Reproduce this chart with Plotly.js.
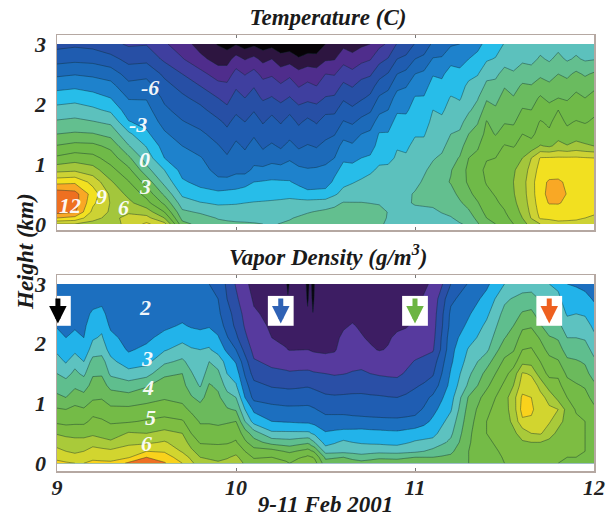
<!DOCTYPE html>
<html><head><meta charset="utf-8">
<script src="https://cdn.plot.ly/plotly-3.0.1.min.js"></script>
<style>html,body{margin:0;padding:0;background:#fff}#c{width:615px;height:517px}</style>
</head><body><div id="c"></div>
<script>
const heights=[0,.1,.2,.35,.5,.7,.9,1.1,1.3,1.5,1.7,1.9,2.1,2.3,2.5,2.75,3];
const tempTimes=[9,9.1,9.2,9.3,9.4,9.5,9.6,9.7,9.8,9.9,9.95,10,10.05,10.1,10.15,10.2,10.25,10.3,10.35,10.4,10.45,10.5,10.55,10.6,10.65,10.7,10.75,10.8,10.85,10.9,10.95,11,11.05,11.1,11.15,11.2,11.25,11.3,11.35,11.4,11.45,11.5,11.55,11.6,11.65,11.7,11.75,11.8,11.85,11.9,11.95,12];
// one vertical profile per time, bottom to top
const tempProfiles=[
[7.5,10.5,12.5,13,13,10,7,4.8,3.1,1.5,.2,-1,-2.2,-3.5,-4.8,-6.6,-8],
[7.5,10,12.2,12.8,12.6,10.2,7.2,5.3,3.5,1.7,.4,-.8,-2,-3.3,-4.6,-6.4,-7.8],
[7,8,8.6,9.3,9.8,8.5,6.6,5,3.4,1.6,.1,-1.2,-2.4,-3.6,-4.8,-6.5,-8],
[6.8,7,7.3,7.4,7.2,6.2,5,3.8,2.6,1,-.3,-1.8,-3,-4,-5.2,-7,-8.6],
[8,8,7.3,6.4,5.6,4.6,3.4,1.8,.1,-1.2,-2.9,-3.8,-4.6,-5.6,-6.6,-8,-9.2],
[9.3,8,6.8,5,4,2.4,.5,-.7,-1.6,-2.7,-3.5,-4,-4.6,-5.4,-6.4,-7.9,-9.1],
[8,6,4.5,2.7,1.2,-.5,-1.5,-3,-3.6,-4.3,-5,-5.7,-6.3,-7,-7.8,-9.3,-10.3],
[2,1,.3,-.8,-1.8,-2.8,-3.5,-4,-4.5,-5.2,-5.9,-6.6,-7.2,-8,-9,-10.4,-11.3],
[1,.6,-.2,-1.4,-2.5,-3.4,-4,-4.4,-5.1,-5.7,-6.5,-7.1,-8,-9,-10,-11.6,-12.6],
[.4,-.1,-.8,-1.7,-2.6,-4.2,-4.9,-5.3,-5.9,-6.6,-7.2,-8.2,-9,-10,-11.2,-12.6,-13.6],
[.35,-.3,-.85,-1.65,-2.5,-4.05,-5.2,-5.8,-6.5,-7.1,-7.8,-8.7,-9.4,-10.2,-11.2,-12.6,-14.1],
[.3,-.5,-.9,-1.6,-2.4,-3.9,-4.8,-5.2,-5.7,-6.4,-7,-7.8,-8.5,-9.2,-10,-11.4,-13.6],
[.2,-.45,-.9,-1.5,-2.3,-3.5,-5,-5.6,-6.2,-6.9,-7.5,-8.3,-9,-9.7,-10.6,-12.1,-14.2],
[.1,-.4,-.9,-1.4,-2.2,-3,-4.2,-5,-5.5,-6.2,-6.9,-7.6,-8.4,-9.1,-10,-11.6,-13.8],
[0,-.45,-.95,-1.35,-2.1,-2.9,-4.1,-5.5,-6.2,-7,-7.6,-8.3,-9.2,-10,-10.9,-12.4,-14.3],
[-.1,-.5,-1,-1.3,-2,-2.8,-3.9,-5,-5.8,-6.6,-7.1,-7.8,-8.9,-9.7,-10.7,-12,-14],
[.05,-.3,-.8,-1.25,-1.9,-2.85,-3.9,-5.3,-6.2,-7,-7.6,-8.4,-9.4,-10.3,-11.3,-12.8,-14.6],
[.2,-.1,-.6,-1.2,-1.8,-2.9,-3.8,-4.7,-5.6,-6.4,-7,-7.8,-8.9,-9.8,-10.8,-12.6,-14.4],
[.45,.15,-.35,-1.1,-2.1,-3.4,-4.1,-5.4,-6.2,-7,-7.7,-8.5,-9.7,-10.6,-11.5,-13.3,-14.9],
[.7,.4,-.1,-1,-2.5,-3.9,-4.4,-5.1,-5.9,-6.7,-7.2,-8.1,-9.4,-10.2,-11.1,-12.9,-14.5],
[.75,.5,.1,-.9,-2.5,-3.75,-4.25,-5.4,-6.1,-7,-7.6,-8.4,-9.6,-10.5,-11.3,-13,-14.4],
[.8,.6,.3,-.8,-2.5,-3.6,-4.1,-5,-5.6,-6.4,-7,-7.8,-8.9,-9.8,-10.5,-12.2,-13.5],
[.85,.65,.4,-.35,-1.75,-2.75,-3.35,-4.5,-5.2,-6.1,-6.9,-7.8,-8.8,-9.7,-10.6,-12.1,-13.4],
[.9,.7,.5,.1,-1,-1.9,-2.6,-3.2,-4,-5,-5.9,-6.8,-7.7,-8.7,-9.7,-11,-12.4],
[.85,.7,.5,.07,-.8,-1.6,-2.35,-3.5,-4.3,-5.2,-6.2,-7.2,-8.2,-9.1,-10.1,-11.4,-12.8],
[.8,.7,.5,.05,-.6,-1.3,-2.1,-3,-3.8,-4.5,-5.6,-6.6,-7.7,-8.4,-9.5,-10.9,-12.3],
[.5,.55,.45,-.02,-.55,-1.1,-1.7,-2.8,-3.6,-4.2,-5.2,-6.2,-7.2,-8.1,-9.2,-10.6,-12],
[.2,.4,.4,-.1,-.5,-.9,-1.3,-1.8,-2.5,-2.9,-3.8,-4.9,-5.8,-6.9,-8,-9.5,-10.9],
[-.2,-.1,-.05,-.25,-.5,-.8,-1.15,-1.9,-2.5,-2.9,-3.6,-4.5,-5.3,-6.4,-7.4,-8.9,-10.3],
[-.6,-.6,-.5,-.4,-.5,-.7,-1,-1.3,-1.6,-2,-2.5,-3.2,-3.9,-4.9,-6,-7.5,-8.9],
[-.65,-.55,-.4,-.15,-.2,-.5,-.8,-1.35,-1.7,-2.1,-2.6,-3.2,-3.8,-4.6,-5.6,-7.1,-8.6],
[-.7,-.5,-.3,.1,.1,-.3,-.6,-.9,-1.2,-1.6,-2,-2.5,-2.9,-3.6,-4.5,-6,-7.4],
[-.65,-.45,-.25,.15,.3,.15,-.15,-.8,-1.2,-1.6,-2,-2.4,-2.9,-3.5,-4.2,-5.6,-7],
[-.6,-.4,-.2,.2,.5,.6,.3,-.1,-.5,-.9,-1.2,-1.5,-2,-2.5,-3.1,-4.4,-5.7],
[-.5,-.25,.05,.4,.75,1.1,.85,.2,-.3,-.8,-1.2,-1.7,-2.1,-2.7,-3.2,-4.3,-5.6],
[-.4,-.1,.3,.6,1,1.6,1.4,1,.5,0,-.4,-1,-1.4,-2,-2.5,-3.4,-4.7],
[-.1,.35,.8,1.3,1.85,2.4,2.35,1.6,.9,.2,-.4,-1.1,-1.6,-2,-2.6,-3.6,-4.5],
[.2,.8,1.3,2,2.7,3.2,3.3,3,2.4,1.5,.6,-.2,-.9,-1.2,-1.9,-3,-3.5],
[1.35,1.9,2.35,2.9,3.45,3.9,4.05,3.4,2.8,2,1.4,.5,-.1,-.8,-1.6,-2.8,-3.2],
[2.5,3,3.4,3.8,4.2,4.6,4.8,4.4,4,3.5,3.1,2.2,1.3,.3,-.4,-1.7,-2.8],
[3,3.5,3.9,4.3,4.6,4.85,4.95,4.5,3.9,2.9,2.3,1.7,1.1,.4,-.3,-1.4,-2.3],
[3.5,4,4.4,4.8,5,5.1,5.1,5,4.6,3.6,2.9,2.4,2,1.4,.5,-.6,-1.4],
[4.5,5,5.35,5.7,5.9,6,5.85,5.4,4.4,3.6,2.8,2.2,1.6,1,.2,-.8,-1.4],
[5.5,6,6.3,6.6,6.8,6.9,6.6,6,5,4.5,3.8,3.1,2.4,1.7,.8,-.3,-1],
[6.5,7.6,7.9,8.2,8.4,8.45,8.1,7.5,5,4.2,3.8,3,2.4,1.6,.6,-.4,-1],
[7.5,9.2,9.5,9.8,10,10,9.6,9.1,6.1,5,4.6,3.8,3.2,2.2,1.2,.2,-.6],
[8,9.35,9.65,10.6,10.9,10.7,9.7,9.15,5.8,4.7,4.3,3.6,2.6,1.8,.9,-.2,-.8],
[8.5,9.5,9.8,10.6,10.9,10.7,9.9,9.2,6.4,5.5,5,4.5,3,2.3,1.5,.4,-.5],
[8.55,9.35,9.65,10.25,10.45,10.3,9.75,9.2,6.1,4.9,4.3,3.7,2.8,2,1.2,-.2,-.8],
[8.6,9.2,9.5,9.9,10,9.9,9.6,9.2,6.5,5.3,4.6,3.8,3.4,2.6,1.8,.2,-.6],
[8.3,9,9.35,9.7,9.8,9.75,9.45,9.1,6.2,5.2,4.4,3.6,3,2.3,1.3,-.2,-.9],
[8,8.8,9.2,9.5,9.6,9.6,9.3,9,6,5.3,4.7,4.2,3.3,2.8,1.7,-.1,-.8]];
const vaporTimes=[9,9.05,9.1,9.15,9.2,9.25,9.3,9.4,9.5,9.6,9.7,9.75,9.8,9.85,9.9,9.95,10,10.05,10.1,10.2,10.28,10.29,10.3,10.35,10.39,10.4,10.41,10.42,10.43,10.44,10.5,10.55,10.6,10.65,10.7,10.75,10.8,10.85,10.9,10.95,11,11.05,11.1,11.15,11.2,11.3,11.4,11.5,11.55,11.6,11.65,11.7,11.75,11.8,11.85,11.9,11.95,12];
const vaporProfiles=[
[6.6,6.4,6.1,5.85,5.45,4.9,4.55,4.1,3.8,3.5,3.2,2.9,2.7,2.45,2.3,2.1,2.05],
[6.55,6.3,6,5.75,5.35,4.85,4.5,4,3.7,3.35,2.95,2.7,2.5,2.35,2.25,2.1,2.05],
[6.5,6.2,5.9,5.7,5.3,4.9,4.6,4.3,3.9,3.6,3.35,2.85,2.6,2.45,2.3,2.1,2.05],
[6.5,6.25,6,5.7,5.3,4.9,4.55,4.15,3.8,3.4,3,2.7,2.5,2.4,2.3,2.1,2.05],
[6.6,6.4,6.2,5.8,5.4,5.1,4.85,4.4,4.15,3.95,3.7,3.2,2.95,2.8,2.6,2.25,2.05],
[6.6,6.35,6.15,5.7,5.3,5.05,4.8,4.45,4.2,3.95,3.7,3.3,3.05,2.9,2.7,2.3,2.05],
[6.6,6.3,6.1,5.6,5.2,4.95,4.6,4.25,3.85,3.4,3.15,2.8,2.65,2.4,2.2,2.05,2.02],
[7.1,6.45,6.2,5.9,5.55,4.95,4.6,4.2,3.7,3.2,2.7,2.45,2.3,2.2,2.1,2.05,2.02],
[7.5,7,6.5,5.9,5.5,5.05,4.7,4.3,3.95,3.3,2.85,2.6,2.4,2.3,2.2,2.1,2.05],
[7.05,6.75,6.45,6.05,5.65,5.15,4.75,4.45,4.25,3.9,3.4,2.95,2.65,2.4,2.3,2.15,2.05],
[6.5,6.25,5.95,5.75,5.5,5.05,4.65,4.35,4.15,4,3.6,3.2,2.85,2.55,2.35,2.2,2.1],
[6.1,5.9,5.6,5.3,5,4.75,4.4,4.05,3.75,3.55,3.3,3.05,2.75,2.45,2.25,2.15,2.05],
[5.75,5.5,5.3,4.95,4.7,4.45,4.2,3.85,3.45,3.2,3.1,3,2.7,2.4,2.2,2.1,2.05],
[5.7,5.4,5.2,4.95,4.7,4.45,4.35,4.2,4.05,3.75,3.5,3.05,2.8,2.45,2.2,2.05,2],
[5.6,5.3,5.15,4.95,4.7,4.4,4.2,4.1,3.9,3.6,3.3,2.8,2.55,2.3,2.1,2,1.9],
[5.65,5.45,5.25,4.95,4.75,4.45,4.05,3.7,3.3,3,2.8,2.4,2.05,1.8,1.7,1.5,1.4],
[5.7,5.6,5.35,5.05,4.85,4.5,3.95,3.5,3.05,2.75,2.45,2,1.6,1.4,1.3,1.1,.95],
[5.45,5.25,5,4.6,4.25,3.5,3,2.5,2.2,1.95,1.7,1.35,1.1,.95,.85,.7,.6],
[5.2,4.95,4.7,4.2,3.75,2.8,2.4,1.85,1.65,1.3,1.05,.85,.72,.63,.55,.45,.35],
[5.25,5,4.7,3.8,3.1,2.5,2.15,1.8,1.45,1.1,.9,.7,.5,.45,.4,.3,.2],
[5.05,4.9,4.45,3.72,3.1,2.46,2.1,1.76,1.41,1.07,.82,.52,.42,.36,.3,.2,.12],
[5.02,4.87,4.42,3.71,3.1,2.45,2.1,1.75,1.4,1.06,.81,.5,.41,.35,.3,.1,-.25],
[5,4.85,4.4,3.7,3.1,2.45,2.1,1.75,1.4,1.05,.8,.48,.4,.35,.3,.2,.1],
[5.2,4.95,4.55,3.8,3.1,2.42,2.1,1.77,1.42,1.08,.78,.49,.38,.33,.28,.18,.08],
[5.45,5.05,4.65,3.88,3.1,2.4,2.1,1.8,1.45,1.1,.75,.5,.35,.3,.25,.15,.06],
[5.5,5.1,4.7,3.9,3.1,2.4,2.1,1.8,1.45,1.1,.75,.5,.35,.3,.1,-.1,-.3],
[5.45,5.07,4.65,3.85,3.08,2.39,2.09,1.79,1.44,1.09,.75,.49,.35,.3,.25,.15,.06],
[5.38,5.03,4.55,3.7,3,2.37,2.07,1.77,1.42,1.07,.74,.47,.34,.3,.25,.15,.06],
[5.3,5,4.5,3.6,2.95,2.35,2.05,1.75,1.4,1.05,.73,.45,.33,.2,.02,-.2,-.3],
[5.2,4.9,4.4,3.5,2.9,2.33,2.03,1.73,1.38,1.04,.72,.44,.32,.28,.24,.14,.06],
[4.2,3.9,3.3,2.8,2.55,2.2,1.85,1.6,1.25,1,.7,.4,.3,.25,.2,.12,.05],
[4.25,3.95,3.32,2.95,2.6,2.2,1.85,1.55,1.3,.95,.7,.45,.4,.35,.3,.2,.1],
[4.3,4,3.35,3.1,2.65,2.2,1.85,1.55,1.35,.98,.85,.7,.58,.45,.35,.22,.1],
[4.25,3.85,3.32,3,2.67,2.17,1.82,1.58,1.33,1.04,.83,.69,.6,.53,.4,.25,.1],
[4.2,3.7,3.3,2.95,2.7,2.15,1.8,1.6,1.3,1.1,.8,.65,.53,.45,.35,.22,.1],
[4.25,3.8,3.32,2.92,2.67,2.12,1.8,1.57,1.27,1,.78,.55,.45,.38,.3,.2,.08],
[4.3,3.9,3.35,2.9,2.65,2.1,1.8,1.55,1.25,.95,.73,.48,.35,.3,.25,.15,.05],
[4.25,3.9,3.32,2.87,2.62,2.1,1.77,1.52,1.22,.92,.72,.52,.47,.4,.28,.18,.08],
[4.2,3.9,3.3,2.85,2.6,2.1,1.75,1.5,1.2,.9,.75,.62,.55,.45,.3,.2,.1],
[4.25,3.95,3.35,2.95,2.67,2.12,1.8,1.57,1.32,1.05,.88,.7,.58,.48,.38,.28,.15],
[4.3,4,3.4,3.05,2.75,2.15,1.85,1.65,1.45,1.2,1.03,.8,.65,.55,.45,.35,.2],
[4.3,4,3.5,3.1,2.8,2.35,2.05,1.85,1.55,1.32,1.12,.87,.75,.68,.6,.55,.4],
[4.3,4,3.65,3.15,2.85,2.6,2.35,2.1,1.7,1.45,1.25,.95,.85,.8,.75,.7,.6],
[4.35,4.05,3.8,3.4,3.15,2.9,2.65,2.45,2.2,2,1.85,1.6,1.55,1.45,1.4,1.25,.95],
[4.4,4.1,3.9,3.6,3.4,3.2,2.95,2.8,2.65,2.55,2.42,2.35,2.28,2.15,2.1,1.9,1.5],
[4.5,4.5,4.5,4.45,4.4,4.3,4.2,4.05,3.6,3.4,3.2,3.05,2.8,2.6,2.45,2.25,2.05],
[4.6,4.7,4.8,4.9,5,5,4.9,4.7,4.4,4.15,3.8,3.4,3.25,3.1,2.9,2.65,2.4],
[5,5.05,5.1,5.2,5.25,5.3,5.3,5.3,5.1,4.85,4.6,4.3,3.98,3.8,3.65,3.4,3],
[5.1,5.2,5.25,5.3,5.4,5.6,5.75,5.8,5.5,5.2,4.8,4.45,4.2,4,3.8,3.55,3.05],
[5.2,5.3,5.4,5.45,5.7,6.4,6.7,6.6,6.25,6.05,5.35,5,4.7,4.4,4.05,3.7,3.2],
[5.2,5.3,5.4,5.5,6,6.4,6.6,6.5,6.2,5.95,5.3,5.05,4.75,4.45,4.1,3.75,3.2],
[5.2,5.3,5.4,5.5,6.05,6.3,6.2,6.1,5.9,5.2,5,4.7,4.45,4.05,3.8,3.45,3.1],
[5.1,5.2,5.25,5.35,5.75,6.05,6.05,5.9,5.2,4.9,4.65,4.35,4.05,3.7,3.45,3.2,3],
[5,5.05,5.1,5.2,5.35,5.7,6,5.3,5.15,4.9,4.55,4.2,3.95,3.65,3.35,3.1,2.9],
[5,5,5.05,5.1,5.15,5.3,5.3,5,4.7,4.4,4.1,3.8,3.5,3.2,2.95,2.75,2.5],
[5,5,5.05,5.05,5.05,5.1,4.95,4.75,4.55,4.3,4.05,3.75,3.5,3.25,3,2.7,2.45],
[4.95,4.95,5,5,5,5,4.85,4.65,4.45,4.15,3.95,3.7,3.45,3.2,2.95,2.65,2.35],
[4.9,4.9,4.9,4.95,4.95,4.95,4.6,4.35,4.1,3.8,3.6,3.35,3.1,2.9,2.7,2.45,2.1]];
const tempColors=['#070307','#2d1540','#4f2d8c','#3f3f9f','#274fa5','#1f5cb0','#1c6ab9','#1e82cc','#27bde9','#5cc1bd','#63bf8f','#6abb5f','#6fba48','#76bb44','#a3c63c','#cdd234','#f2e020','#f9a825','#ee7021'];
const vaporColors=['#0a0510','#3d1d63','#573a9e','#2a4fa6','#1f5db2','#1c6fbf','#22b3ea','#5dc2c0','#5fbe8e','#6bba5c','#74bb47','#7dbd42','#a9ca3a','#d2d52f','#f9d21c','#ee7023'];
const tempLabels=['-6','-3','0','3','6','9','12'];
const tempLabelTimes=[9.52,9.45,9.49,9.49,9.37,9.25,9.07];
const tempLabelHeights=[2.27,1.65,1.07,.63,.28,.45,.31];
const vaporLabels=['2','3','4','5','6'];
const vaporLabelTimes=[9.49,9.5,9.51,9.52,9.5];
const vaporLabelHeights=[2.6,1.75,1.27,.77,.33];
const dayTicks=[9,10,11,12];
const heightTicks=[0,1,2,3];
const markerTimes=[9.005,10.25,11,11.75];
const markerColors=['#000000','#2f62b5','#6cb542','#ee6020'];

const serif='Liberation Serif';
function bandScale(list){return list.map((c,i)=>[i/(list.length-1),c]);}
const lineStyle={color:'rgba(15,40,45,0.6)',width:0.7,smoothing:0};
const traces=[
 {type:'contour',x:tempTimes,y:heights,z:tempProfiles,transpose:true,xaxis:'x',yaxis:'y',showscale:false,hoverinfo:'skip',
  contours:{start:-13.5,end:12,size:1.5,coloring:'fill'},colorscale:bandScale(tempColors),line:lineStyle},
 {type:'contour',x:vaporTimes,y:heights,z:vaporProfiles,transpose:true,xaxis:'x2',yaxis:'y2',showscale:false,hoverinfo:'skip',
  contours:{start:0,end:7,size:.5,coloring:'fill'},colorscale:bandScale(vaporColors),line:lineStyle}
];
const W=615,H=517;
const tf={family:serif,size:22,color:'#222'};
const mark=s=>'<b><i>'+s+'</i></b>';
function xa(dom,labels){return {domain:dom,range:[9,12],tickvals:dayTicks,ticktext:dayTicks.map(d=>mark(d)),showticklabels:labels,ticks:'inside',ticklen:3,tickcolor:'#777',
  showgrid:false,zeroline:false,showline:true,linecolor:'#b5a8a2',linewidth:1.5,mirror:'ticks',tickfont:tf,ticklabelstandoff:-4};}
function ya(dom){return {domain:dom,tickvals:heightTicks,ticktext:heightTicks.map(d=>mark(d)),ticks:'',showgrid:false,zeroline:false,showline:true,linecolor:'#b5a8a2',linewidth:1.5,mirror:true,tickfont:tf,ticklabelstandoff:5};}
const xdom=[57/W,594/W];
const titleFont={family:serif,size:23,color:'#1a1a1a'};
const layout={width:W,height:H,margin:{l:0,r:0,t:0,b:0},paper_bgcolor:'#fff',plot_bgcolor:'#fff',showlegend:false,font:{family:serif},
 title:{text:mark('Temperature (C)'),x:328/W,xanchor:'center',y:1-17/H,yanchor:'middle',font:titleFont},
 xaxis:Object.assign(xa(xdom,false),{anchor:'y'}),
 yaxis:Object.assign(ya([1-230/H,1-35/H]),{range:[-.1,3.15],anchor:'x'}),
 xaxis2:Object.assign(xa(xdom,true),{anchor:'y2',title:{text:mark('9-11 Feb 2001'),font:titleFont,standoff:4}}),
 yaxis2:Object.assign(ya([1-471/H,1-275/H]),{range:[-.13,3.15],anchor:'x2'}),
 shapes:markerTimes.map((t,i)=>({type:'rect',xref:'x2',yref:'y2',x0:i===0?9:t-.072,x1:t+.072,y0:2.3,y1:2.8,fillcolor:'#fff',line:{width:0},layer:'above'})),
 annotations:[
  {xref:'paper',yref:'paper',x:328/W,y:1-256/H,xanchor:'center',yanchor:'middle',text:mark('Vapor Density (g/m<sup>3</sup>)'),showarrow:false,font:titleFont},
  {xref:'paper',yref:'paper',x:25/W,y:1-252/H,xanchor:'center',yanchor:'middle',text:mark('Height (km)'),textangle:-90,showarrow:false,font:titleFont}
 ]
};
function addLabels(text,ts,hs,xr,yr){text.forEach((s,i)=>layout.annotations.push({xref:xr,yref:yr,x:ts[i],y:hs[i],text:mark(s),showarrow:false,font:{family:serif,size:22,color:'rgba(255,255,255,0.95)'}}));}
addLabels(tempLabels,tempLabelTimes,tempLabelHeights,'x','y');
addLabels(vaporLabels,vaporLabelTimes,vaporLabelHeights,'x2','y2');
markerTimes.forEach((t,i)=>layout.annotations.push({xref:'x2',yref:'y2',axref:'x2',ayref:'y2',x:t,y:2.34,ax:t,ay:2.78,text:'',showarrow:true,arrowhead:2,arrowsize:.7,arrowwidth:5,arrowcolor:markerColors[i]}));
Plotly.newPlot('c',traces,layout,{displayModeBar:false,staticPlot:true});
</script></body></html>
